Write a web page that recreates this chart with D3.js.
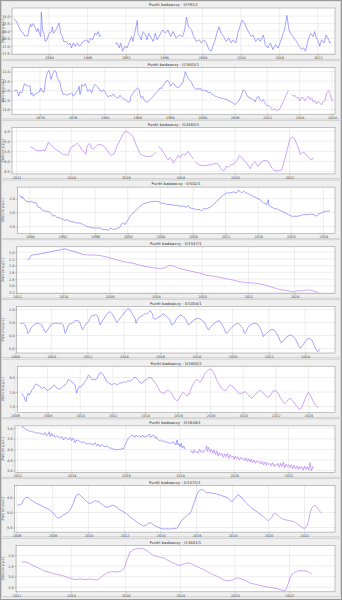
<!DOCTYPE html>
<html><head><meta charset="utf-8">
<script src="https://cdn.jsdelivr.net/npm/d3@7"></script>
<style>body{margin:0;background:#fff}svg{display:block}</style>
</head><body><svg id="c" width="342" height="600"></svg>
<script>
const titles = ["Punkt badawczy - II/791/1","Punkt badawczy - II/1602/1","Punkt badawczy - II/2265/1","Punkt badawczy - II/502/1","Punkt badawczy - II/1547/1","Punkt badawczy - II/1058/1","Punkt badawczy - II/1650/1","Punkt badawczy - II/1648/1","Punkt badawczy - II/1575/1","Punkt badawczy - II/1601/1"];
const yLabel = "ZWG [m p.p.t.]";

// series: [year, level]; null = gap in measurements
const s1 = [[1974.5,15.17],[1974.8,15.28],[1975.2,15.61],[1975.4,15.83],[1975.7,16.04],[1976.0,16.15],[1976.2,16.33],[1976.7,16.33],[1976.9,15.83],[1977.1,15.54],[1977.3,15.72],[1977.5,15.50],[1977.7,15.61],[1977.9,15.83],[1978.1,16.04],[1978.3,15.83],[1978.5,16.15],[1978.7,16.37],[1978.8,14.74],[1979.0,15.93],[1979.2,16.15],[1979.4,16.70],[1979.7,16.59],[1980.0,16.15],[1980.4,16.04],[1980.5,15.72],[1980.7,16.15],[1981.1,15.93],[1981.6,15.46],[1981.8,16.15],[1982.1,16.37],[1982.3,16.70],[1982.7,16.70],[1983.0,16.91],[1983.3,16.80],[1983.5,17.13],[1983.8,16.80],[1984.1,17.02],[1984.4,16.80],[1984.8,17.02],[1985.3,16.70],[1985.9,16.59],[1986.2,16.80],[1986.5,16.48],[1986.8,16.59],[1987.2,16.15],[1987.4,16.26],[1987.7,16.04],[1987.9,16.37],[1988.2,16.26],null,[1990.4,16.91],[1990.6,16.76],[1991.0,17.13],[1991.2,16.80],[1991.5,17.35],[1991.8,17.02],[1992.2,17.13],[1992.5,16.80],[1992.9,16.37],[1993.1,16.70],[1993.4,16.15],[1993.8,15.28],[1993.9,16.15],[1994.2,16.37],[1994.4,16.59],[1994.7,16.04],[1995.1,16.26],[1995.3,16.59],[1995.6,16.15],[1996.0,16.48],[1996.3,16.70],[1996.6,16.15],[1996.9,16.59],[1997.2,16.37],[1997.6,16.04],[1997.8,15.93],[1998.2,16.15],[1998.6,15.93],[1999.0,16.37],[1999.4,16.04],[1999.9,16.48],[2000.4,16.26],[2000.9,16.37],[2001.2,15.93],[2001.5,15.07],[2001.8,15.72],[2002.3,15.93],[2002.5,16.26],[2003.0,16.70],[2003.5,16.59],[2003.8,16.80],[2004.2,16.59],[2004.6,16.80],[2005.0,17.24],[2005.4,17.35],[2005.6,17.02],[2005.9,16.70],[2006.3,16.04],[2006.6,15.72],[2006.9,16.15],[2007.3,16.37],[2007.7,16.70],[2008.1,16.48],[2008.5,16.80],[2008.8,16.59],[2009.2,16.80],[2009.5,16.15],[2009.9,15.61],[2010.2,15.28],[2010.6,15.50],[2010.9,15.83],[2011.3,16.15],[2011.6,16.37],[2011.9,16.26],[2012.3,16.70],[2012.7,16.48],[2013.0,16.70],[2013.5,16.26],[2013.8,16.91],[2014.2,17.13],[2014.6,16.80],[2015.0,17.24],[2015.4,16.91],[2015.8,17.13],[2016.2,16.70],[2016.6,16.15],[2016.8,15.93],[2017.2,14.96],[2017.5,15.93],[2017.9,16.26],[2018.3,16.48],[2018.7,16.70],[2019.1,17.02],[2019.5,17.24],[2019.8,17.13],[2020.1,17.35],[2020.5,16.59],[2020.9,16.15],[2021.3,16.37],[2021.5,16.04],[2021.8,16.48],[2022.1,16.70],[2022.3,17.02],[2022.6,16.59],[2023.0,16.80],[2023.3,16.26],[2023.6,16.48],[2023.9,16.80],[2024.1,16.76]];

const s2 = [[1965.19,12.07],[1965.56,11.95],[1965.81,12.04],[1966.05,12.30],[1966.30,12.07],[1966.61,12.12],[1966.91,11.86],[1967.10,11.64],[1967.41,11.71],[1967.84,11.77],[1968.15,11.75],[1968.33,12.21],[1968.52,12.12],[1968.76,12.30],[1969.07,12.18],[1969.50,12.12],[1969.87,12.07],[1970.12,11.86],[1970.43,12.04],[1970.74,12.09],[1970.92,11.68],[1971.11,11.32],[1971.35,11.05],[1971.66,10.93],[1971.85,11.14],[1972.03,11.41],[1972.28,11.18],[1972.65,10.93],[1972.96,11.00],[1973.20,11.32],[1973.45,11.46],[1973.70,11.59],[1973.88,11.86],[1974.07,12.04],[1974.31,12.21],[1974.62,12.18],[1974.93,12.25],[1975.24,12.18],[1975.54,12.21],[1975.85,12.12],[1976.16,12.30],[1976.47,12.18],[1976.78,12.07],[1977.09,11.95],[1977.21,11.77],[1977.39,12.21],[1977.58,12.04],[1977.70,11.68],[1978.01,11.77],[1978.32,11.64],[1978.63,11.86],[1978.81,12.04],[1979.06,12.00],[1979.24,11.95],[1979.55,12.12],[1979.86,11.82],[1980.17,11.68],[1980.48,11.77],[1980.85,11.86],[1981.09,12.00],[1981.40,12.07],[1981.71,11.95],[1982.02,12.07],[1982.32,12.21],[1982.63,12.36],[1982.94,12.25],[1983.25,12.30],[1983.56,12.18],[1983.87,12.30],[1984.17,12.39],[1984.48,12.39],[1984.79,12.25],[1985.10,12.36],[1985.41,12.43],[1985.72,12.48],[1986.02,12.54],[1986.33,12.61],[1986.64,12.57],[1986.83,12.30],[1987.13,12.18],[1987.56,12.00],[1988.00,11.86],[1988.37,11.95],[1988.49,12.21],[1988.67,12.39],[1988.98,12.30],[1989.23,12.48],[1989.48,12.57],[1989.72,12.61],[1990.03,12.57],[1990.34,12.48],[1990.65,12.39],[1990.95,12.30],[1991.26,12.18],[1991.57,12.07],[1991.88,12.00],[1992.19,11.86],[1992.50,11.89],[1992.68,11.77],[1992.93,11.68],[1993.30,11.50],[1993.60,11.46],[1993.91,11.59],[1994.16,11.77],[1994.34,11.68],[1994.65,11.59],[1994.96,11.71],[1995.27,11.82],[1995.58,11.86],[1995.89,11.77],[1996.19,11.64],[1996.50,11.50],[1996.69,11.23],[1996.87,11.00],[1997.12,11.18],[1997.43,11.36],[1997.73,11.46],[1998.04,11.59],[1998.35,11.77],[1998.54,11.86],[1998.84,11.95],[1999.09,11.86],[1999.34,11.95],[1999.58,11.86],[1999.89,12.00],[2000.20,11.95],[2000.51,12.04],[2000.82,12.00],[2001.13,12.12],[2001.43,12.07],[2001.74,12.18],[2002.05,12.21],[2002.36,12.30],[2002.67,12.30],[2002.97,12.39],[2003.28,12.36],[2003.59,12.43],[2003.90,12.39],[2004.21,12.48],[2004.52,12.45],[2004.82,12.54],[2005.13,12.57],[2005.44,12.61],[2005.75,12.66],[2006.06,12.75],[2006.36,12.66],[2006.67,12.57],[2006.98,12.43],[2007.29,12.21],[2007.60,11.95],[2007.91,12.04],[2008.21,12.21],[2008.52,12.36],[2008.83,12.39],[2009.14,12.43],[2009.45,12.48],[2009.75,12.61],[2010.06,12.39],[2010.37,12.30],[2010.68,12.48],[2010.99,12.57],[2011.30,12.48],[2011.60,12.66],[2011.91,12.79],[2012.22,12.79],[2012.53,12.84],[2012.84,12.96],[2013.14,13.02],[2013.45,12.96],[2013.76,13.07],[2014.07,13.02],[2014.38,12.96],[2014.69,12.75],[2014.99,12.57],[2015.30,12.39],[2015.61,12.18],[2015.92,12.00],null,[2016.54,12.21],[2016.84,12.30],[2017.15,12.25],[2017.46,12.39],[2017.77,12.36],[2018.08,12.54],[2018.38,12.36],[2018.69,12.39],[2019.00,12.54],[2019.31,12.39],[2019.62,12.30],[2019.93,12.48],[2020.23,12.39],[2020.54,12.61],[2020.85,12.54],[2021.16,12.71],[2021.47,12.57],[2021.77,12.66],[2022.08,12.75],[2022.39,12.57],[2022.70,12.54],[2023.01,12.12],[2023.32,12.00],[2023.63,12.18],[2023.93,12.48],[2024.24,12.54]];

const s3 = [[2012.49,5.27],[2012.61,5.35],[2012.73,5.47],[2012.86,5.47],[2012.98,5.43],[2013.04,5.48],[2013.10,5.27],[2013.16,5.06],[2013.22,5.11],[2013.35,5.32],[2013.47,5.43],[2013.59,5.55],[2013.71,5.68],[2013.77,5.65],[2013.83,5.71],[2013.90,5.68],[2013.96,5.39],[2014.02,5.27],[2014.14,5.19],[2014.20,5.11],[2014.26,5.16],[2014.32,5.27],[2014.38,5.43],[2014.51,5.60],[2014.54,5.65],[2014.59,5.22],[2014.67,5.11],[2014.71,5.19],[2014.75,5.35],[2014.81,5.39],[2014.87,5.32],[2014.93,5.22],[2014.99,5.16],[2015.06,5.16],[2015.18,5.22],[2015.30,5.43],[2015.42,5.65],[2015.48,5.71],[2015.55,5.65],[2015.61,5.52],[2015.67,5.27],[2015.79,4.94],[2015.91,4.61],[2016.01,4.50],[2016.10,4.57],[2016.18,4.66],[2016.25,4.73],[2016.30,4.89],[2016.38,5.19],[2016.46,5.43],[2016.52,5.60],[2016.62,5.71],[2016.77,5.76],[2016.89,5.76],[2016.99,5.71],[2017.07,5.60],[2017.11,5.55],null,[2017.20,5.27],[2017.26,5.32],[2017.32,5.43],[2017.38,5.55],[2017.44,5.68],[2017.50,5.84],[2017.56,5.93],[2017.62,5.81],[2017.69,5.93],[2017.75,6.09],[2017.81,5.93],[2017.87,5.84],[2017.93,5.71],[2017.99,5.81],[2018.05,5.68],[2018.11,5.65],[2018.17,5.71],[2018.24,5.55],[2018.30,5.52],[2018.36,5.68],[2018.42,5.76],[2018.48,5.88],null,[2018.54,6.01],[2018.60,6.09],[2018.72,6.20],[2018.85,6.22],[2018.97,6.20],[2019.09,6.17],[2019.21,6.14],[2019.31,6.09],[2019.40,6.17],[2019.46,6.30],[2019.52,6.42],[2019.58,6.47],[2019.64,6.42],[2019.68,6.25],[2019.76,6.30],[2019.83,6.20],[2019.95,6.14],[2020.07,5.97],[2020.17,5.71],[2020.25,5.81],[2020.31,5.93],[2020.44,6.09],[2020.50,6.25],[2020.56,6.37],[2020.62,6.20],[2020.68,6.09],[2020.74,6.01],[2020.80,6.17],[2020.86,6.25],[2020.92,6.09],[2021.05,5.97],[2021.17,5.97],[2021.23,6.01],[2021.29,6.17],[2021.35,6.34],[2021.41,6.42],[2021.47,6.47],[2021.60,6.47],[2021.72,6.42],[2021.78,6.14],[2021.84,5.84],[2021.90,5.52],[2021.96,5.19],[2022.02,4.89],[2022.09,4.78],[2022.15,4.83],[2022.21,4.94],[2022.27,5.16],[2022.33,5.32],[2022.39,5.65],[2022.45,5.60],[2022.51,5.55],[2022.57,5.60],[2022.64,5.71],[2022.70,5.81],[2022.76,5.88],[2022.82,5.93],[2022.88,5.81]];

const s4 = [[1986.65,1.88],[1986.86,1.92],[1986.98,1.98],[1987.10,1.92],[1987.18,2.00],[1987.59,2.10],[1988.00,2.12],[1988.21,2.10],[1988.41,2.15],[1988.74,2.15],[1989.02,2.31],[1989.31,2.33],[1989.43,2.39],[1989.64,2.43],[1989.84,2.45],[1990.05,2.45],[1990.37,2.48],[1990.66,2.55],[1990.86,2.63],[1991.07,2.59],[1991.27,2.67],[1991.68,2.69],[1992.09,2.75],[1992.30,2.79],[1992.50,2.75],[1992.91,2.81],[1993.32,2.83],[1993.73,2.87],[1994.14,2.87],[1994.55,2.93],[1994.95,2.99],[1995.36,3.02],[1995.77,3.05],[1996.18,3.05],[1996.59,3.05],[1997.00,3.11],[1997.41,3.11],[1997.61,3.14],[1997.82,3.05],[1998.23,3.11],[1998.64,3.07],[1998.84,3.05],[1999.04,3.02],[1999.25,2.90],[1999.45,2.87],[1999.66,2.93],[1999.86,2.81],[2000.07,2.75],[2000.27,2.63],[2000.48,2.57],[2000.68,2.51],[2000.89,2.45],[2001.09,2.39],[2001.50,2.27],[2001.91,2.19],[2002.32,2.15],[2002.73,2.12],[2003.13,2.10],[2003.54,2.10],[2003.95,2.12],[2004.16,2.19],[2004.36,2.15],[2004.77,2.21],[2005.18,2.21],[2005.59,2.24],[2006.00,2.24],[2006.41,2.27],[2006.82,2.27],[2007.22,2.31],[2007.43,2.24],[2007.63,2.33],[2008.04,2.36],[2008.45,2.39],[2008.86,2.39],[2009.06,2.45],[2009.27,2.36],[2009.68,2.36],[2010.09,2.31],[2010.50,2.21],[2010.91,2.10],[2011.31,1.98],[2011.72,1.88],[2012.13,1.80],[2012.54,1.80],[2012.95,1.76],[2013.36,1.80],[2013.56,1.71],[2013.77,1.74],[2013.97,1.80],[2014.18,1.74],[2014.59,1.80],[2015.00,1.86],[2015.40,1.92],[2015.81,1.98],[2016.22,2.04],[2016.63,2.15],[2017.04,2.21],[2017.24,2.04],[2017.29,2.24],[2017.65,2.31],[2018.06,2.36],[2018.47,2.39],[2018.88,2.45],[2019.29,2.51],[2019.70,2.57],[2020.11,2.63],[2020.52,2.63],[2020.93,2.63],[2021.33,2.59],[2021.74,2.57],[2022.15,2.57],[2022.56,2.55],[2022.97,2.59],[2023.18,2.63],[2023.38,2.55],[2023.79,2.51],[2024.20,2.45],[2024.61,2.45],[2024.81,2.43]];

const s5 = [[2012.44,2.22],[2012.53,2.20],[2012.59,2.10],[2012.70,2.08],[2012.99,2.05],[2013.28,2.01],[2013.57,1.97],[2013.86,1.93],[2014.07,1.90],[2014.29,1.95],[2014.58,2.00],[2014.86,2.07],[2015.15,2.09],[2015.30,2.08],[2015.59,2.10],[2015.87,2.14],[2016.16,2.20],[2016.45,2.25],[2016.74,2.30],[2017.03,2.33],[2017.32,2.39],[2017.60,2.43],[2017.89,2.46],[2018.18,2.49],[2018.32,2.47],[2018.47,2.44],[2018.54,2.41],[2018.61,2.39],[2018.76,2.41],[2019.04,2.49],[2019.33,2.53],[2019.62,2.58],[2019.91,2.62],[2020.20,2.69],[2020.49,2.71],[2020.77,2.75],[2021.06,2.79],[2021.35,2.83],[2021.64,2.88],[2021.93,2.90],[2022.22,2.92],[2022.50,2.94],[2022.79,2.99],[2023.08,3.05],[2023.37,3.11],[2023.66,3.14],[2023.95,3.18],[2024.09,3.15],[2024.23,3.15],[2024.38,3.14],[2024.52,3.12],[2024.67,3.12],[2024.81,3.15],[2024.95,3.18],[2025.03,3.20]];

const s6 = [[2008.28,3.06],[2008.46,3.06],[2008.55,3.19],[2008.64,3.45],[2008.70,3.84],[2008.74,3.78],[2008.79,3.71],[2008.86,3.45],[2008.97,3.27],[2009.10,3.11],[2009.29,3.06],[2009.38,3.11],[2009.47,3.19],[2009.56,3.45],[2009.65,3.71],[2009.71,3.78],[2009.78,3.58],[2009.89,3.37],[2010.02,3.11],[2010.21,3.06],[2010.39,3.06],[2010.48,3.11],[2010.57,3.06],[2010.67,3.19],[2010.72,3.58],[2010.76,3.84],[2010.81,3.71],[2010.94,3.19],[2011.03,3.11],[2011.13,3.06],[2011.22,2.96],[2011.31,2.85],[2011.44,2.85],[2011.55,2.93],[2011.62,3.19],[2011.68,3.45],[2011.73,3.58],[2011.81,3.32],[2011.92,3.11],[2012.05,2.93],[2012.14,2.67],[2012.23,2.49],[2012.28,2.41],[2012.36,2.49],[2012.43,2.39],[2012.50,2.41],[2012.60,2.67],[2012.65,3.06],[2012.69,3.19],[2012.78,2.93],[2012.91,2.67],[2013.02,2.41],[2013.15,2.23],[2013.24,2.16],[2013.33,2.29],[2013.42,2.49],[2013.52,2.75],[2013.61,3.01],[2013.70,2.85],[2013.83,2.59],[2013.98,2.34],[2014.12,2.08],[2014.23,1.90],[2014.31,1.97],[2014.44,2.23],[2014.53,2.49],[2014.62,2.67],[2014.67,3.06],[2014.75,2.80],[2014.86,2.59],[2014.99,2.49],[2015.08,2.41],[2015.19,2.29],[2015.26,2.34],[2015.36,2.23],[2015.45,2.08],[2015.50,2.16],[2015.58,2.34],[2015.63,2.67],[2015.72,2.75],[2015.82,2.67],[2015.91,2.59],[2016.00,2.54],[2016.09,2.41],[2016.18,2.34],[2016.28,2.41],[2016.37,2.54],[2016.46,2.67],[2016.55,2.85],[2016.64,3.19],[2016.73,3.11],[2016.83,2.93],[2016.92,2.67],[2017.10,2.41],[2017.25,2.49],[2017.38,2.67],[2017.47,2.93],[2017.56,3.19],[2017.65,3.11],[2017.75,2.93],[2017.93,2.75],[2018.11,2.67],[2018.30,2.80],[2018.48,3.06],[2018.61,3.45],[2018.68,3.58],[2018.76,3.37],[2018.94,3.11],[2019.13,2.93],[2019.27,2.85],[2019.40,3.11],[2019.53,3.45],[2019.64,3.84],[2019.73,3.78],[2019.86,3.52],[2020.04,3.27],[2020.19,3.11],[2020.32,3.06],[2020.41,3.19],[2020.56,3.45],[2020.65,3.84],[2020.74,3.71],[2020.87,3.32],[2021.06,3.11],[2021.24,3.06],[2021.37,3.11],[2021.48,3.32],[2021.61,3.71],[2021.70,4.09],[2021.76,3.96],[2021.88,3.84],[2022.03,3.63],[2022.16,3.52],[2022.29,3.58],[2022.40,3.78],[2022.53,4.09],[2022.66,4.56],[2022.77,4.48],[2022.90,4.22],[2023.08,4.04],[2023.21,3.96],[2023.36,4.09],[2023.50,4.35],[2023.63,4.74],[2023.72,4.99],[2023.82,4.87],[2023.94,4.61],[2024.09,4.30],[2024.23,4.22],[2024.37,4.35],[2024.46,4.61],[2024.57,4.99],[2024.64,5.18],[2024.70,5.26],[2024.77,5.13],[2024.83,5.08]];

const s7 = [[2006.41,7.04],[2006.47,7.10],[2006.55,7.16],[2006.61,7.27],[2006.68,7.33],[2006.72,7.16],[2006.82,7.04],[2006.88,7.10],[2006.96,7.02],[2007.02,6.93],[2007.13,6.87],[2007.23,6.75],[2007.29,6.72],[2007.37,6.75],[2007.49,6.79],[2007.58,6.83],[2007.70,6.88],[2007.78,6.83],[2007.90,6.90],[2007.98,6.95],[2008.11,6.90],[2008.19,6.87],[2008.31,6.81],[2008.39,6.75],[2008.52,6.83],[2008.60,6.87],[2008.72,6.90],[2008.80,6.87],[2008.93,6.81],[2009.07,6.75],[2009.17,6.70],[2009.27,6.56],[2009.37,6.60],[2009.48,6.64],[2009.58,6.70],[2009.68,6.75],[2009.78,7.04],[2009.84,6.93],[2009.93,6.81],[2010.03,6.83],[2010.11,6.79],[2010.19,6.72],[2010.29,6.64],[2010.40,6.56],[2010.50,6.41],[2010.60,6.47],[2010.64,6.52],[2010.75,6.58],[2010.85,6.56],[2010.97,6.58],[2011.05,6.52],[2011.13,6.41],[2011.22,6.33],[2011.32,6.35],[2011.42,6.41],[2011.52,6.52],[2011.62,6.64],[2011.73,6.67],[2011.83,6.72],[2011.93,6.75],[2012.03,6.72],[2012.13,6.70],[2012.24,6.75],[2012.34,6.72],[2012.44,6.67],[2012.54,6.70],[2012.65,6.64],[2012.75,6.67],[2012.85,6.64],[2012.95,6.60],[2013.06,6.64],[2013.16,6.58],[2013.26,6.52],[2013.36,6.49],[2013.46,6.52],[2013.57,6.60],[2013.67,6.67],[2013.77,6.70],[2013.87,6.64],[2013.98,6.60],[2014.08,6.56],[2014.18,6.52],[2014.28,6.49],[2014.38,6.52],[2014.49,6.60],[2014.59,6.67],[2014.69,6.75],[2014.79,6.87],[2014.90,6.98],[2015.00,7.02],[2015.10,7.04],[2015.20,7.01],[2015.31,6.96],[2015.41,6.93],[2015.51,6.98],[2015.61,7.04],[2015.71,7.16],[2015.82,7.25],[2015.92,7.30],[2016.02,7.27],[2016.12,7.16],[2016.23,7.04],[2016.33,7.01],[2016.43,7.06],[2016.53,7.13],[2016.63,7.10],[2016.74,6.98],[2016.84,6.83],[2016.94,6.72],[2017.04,6.64],[2017.15,6.56],[2017.25,6.60],[2017.35,6.67],[2017.45,6.60],[2017.55,6.47],[2017.66,6.35],[2017.76,6.29],[2017.86,6.24],[2017.96,6.21],[2018.07,6.24],[2018.17,6.33],[2018.27,6.44],[2018.37,6.58],[2018.47,6.70],[2018.58,6.79],[2018.68,6.87],[2018.78,6.93],[2018.88,6.95],[2018.99,6.90],[2019.09,6.81],[2019.19,6.75],[2019.29,6.79],[2019.40,6.83],[2019.50,6.90],[2019.60,6.95],[2019.70,7.04],[2019.80,7.06],[2019.91,7.04],[2020.01,7.02],[2020.11,6.98],[2020.21,7.04],[2020.32,7.10],[2020.42,7.18],[2020.52,7.21],[2020.62,7.16],[2020.72,7.10],[2020.83,7.04],[2020.93,6.98],[2021.03,6.93],[2021.13,6.98],[2021.24,7.04],[2021.34,7.10],[2021.44,7.16],[2021.54,7.18],[2021.64,7.13],[2021.75,7.04],[2021.85,6.95],[2021.95,6.95],[2022.05,6.98],[2022.16,7.06],[2022.26,7.18],[2022.36,7.27],[2022.46,7.36],[2022.56,7.39],[2022.67,7.33],[2022.77,7.25],[2022.87,7.21],[2022.97,7.27],[2023.08,7.33],[2023.18,7.41],[2023.28,7.48],[2023.38,7.56],[2023.49,7.59],[2023.59,7.52],[2023.69,7.39],[2023.79,7.25],[2023.89,7.10],[2024.00,7.02],[2024.10,7.10],[2024.20,7.21],[2024.30,7.33],[2024.41,7.44],[2024.51,7.50],[2024.61,7.52]];

const s8 = [[2012.16,2.92],[2012.22,2.95],[2012.28,3.03],[2012.34,3.08],[2012.41,3.11],[2012.47,3.16],[2012.53,3.13],[2012.59,3.20],[2012.65,3.17],[2012.71,3.24],[2012.77,3.20],[2012.84,3.27],[2012.90,3.24],[2012.96,3.32],[2013.02,3.20],[2013.08,3.36],[2013.14,3.27],[2013.18,3.16],[2013.21,3.39],[2013.27,3.24],[2013.30,3.36],[2013.35,3.32],[2013.39,3.43],[2013.45,3.36],[2013.51,3.39],[2013.57,3.47],[2013.64,3.39],[2013.70,3.55],[2013.76,3.43],[2013.82,3.47],[2013.88,3.55],[2013.94,3.43],[2014.00,3.58],[2014.04,3.47],[2014.09,3.52],[2014.13,3.68],[2014.19,3.55],[2014.25,3.58],[2014.31,3.63],[2014.37,3.68],[2014.44,3.63],[2014.50,3.71],[2014.56,3.74],[2014.62,3.71],[2014.68,3.74],[2014.74,3.74],[2014.80,3.79],[2014.87,3.68],[2014.93,3.83],[2014.99,3.74],[2015.05,3.87],[2015.11,3.77],[2015.17,3.83],[2015.23,3.87],[2015.30,3.83],[2015.36,3.90],[2015.42,3.94],[2015.48,3.94],[2015.54,3.99],[2015.60,3.99],[2015.67,4.02],[2015.73,3.99],[2015.79,4.02],[2015.85,3.94],[2015.91,3.99],[2015.94,3.87],[2015.97,3.79],[2016.03,3.63],[2016.10,3.47],[2016.16,3.39],[2016.22,3.32],[2016.28,3.36],[2016.34,3.43],[2016.38,3.32],[2016.43,3.39],[2016.50,3.36],[2016.55,3.43],[2016.62,3.32],[2016.67,3.43],[2016.75,3.36],[2016.80,3.39],[2016.87,3.27],[2016.92,3.43],[2016.97,3.36],[2017.02,3.32],[2017.08,3.47],[2017.12,3.39],[2017.17,3.52],[2017.24,3.58],[2017.29,3.55],[2017.36,3.65],[2017.41,3.58],[2017.49,3.68],[2017.53,3.65],[2017.61,3.71],[2017.66,3.68],[2017.71,3.71],[2017.76,3.63],[2017.82,3.74],[2017.85,3.79],[2017.89,3.55],[2017.93,3.79],[2017.98,3.74],[2018.00,3.87],[2018.04,3.71],[2018.08,3.94],[2018.13,3.83],[2018.19,3.99],null,[2018.37,4.13],[2018.42,4.06],[2018.47,4.18],[2018.52,4.02],[2018.57,4.15],[2018.62,4.09],[2018.67,4.18],[2018.72,3.99],[2018.76,4.12],[2018.81,4.06],[2018.86,4.15],[2018.91,4.02],[2018.96,3.96],[2018.99,3.83],[2019.01,4.10],[2019.06,3.90],[2019.11,4.15],[2019.16,3.99],[2019.21,4.18],[2019.26,4.02],[2019.31,4.24],[2019.36,4.06],[2019.40,4.31],[2019.45,4.15],[2019.50,4.28],[2019.55,4.18],[2019.60,4.37],[2019.65,4.21],[2019.70,4.34],[2019.75,4.18],[2019.80,4.43],[2019.85,4.24],[2019.90,4.37],[2019.95,4.31],[2020.00,4.46],[2020.04,4.31],[2020.09,4.43],[2020.14,4.34],[2020.19,4.50],[2020.24,4.37],[2020.29,4.46],[2020.34,4.40],[2020.39,4.53],[2020.44,4.40],[2020.49,4.56],[2020.54,4.43],[2020.59,4.59],[2020.63,4.46],[2020.68,4.62],[2020.73,4.50],[2020.78,4.65],[2020.83,4.53],[2020.88,4.62],[2020.93,4.56],[2020.98,4.69],[2021.03,4.56],[2021.08,4.72],[2021.13,4.59],[2021.18,4.75],[2021.22,4.62],[2021.27,4.72],[2021.32,4.65],[2021.37,4.78],[2021.42,4.62],[2021.47,4.81],[2021.52,4.69],[2021.57,4.78],[2021.62,4.65],[2021.67,4.84],[2021.72,4.65],[2021.77,4.81],[2021.82,4.59],[2021.86,4.87],[2021.91,4.69],[2021.96,4.81],[2022.01,4.72],[2022.06,4.87],[2022.11,4.72],[2022.16,4.91],[2022.21,4.75],[2022.26,4.91],[2022.31,4.78],[2022.36,4.94],[2022.41,4.78],[2022.45,4.91],[2022.50,4.81],[2022.55,4.97],[2022.60,4.78],[2022.65,4.94],[2022.70,4.81],[2022.75,4.97],[2022.80,4.62],[2022.85,5.00],[2022.90,4.81],[2022.92,4.89]];

const s9 = [[2006.04,4.75],[2006.15,4.75],[2006.28,4.72],[2006.37,4.59],[2006.52,4.50],[2006.65,4.50],[2006.74,4.57],[2006.93,4.64],[2007.11,4.70],[2007.30,4.75],[2007.48,4.81],[2007.67,4.86],[2007.85,4.92],[2008.04,5.03],[2008.22,5.16],[2008.32,5.19],[2008.41,5.16],[2008.60,5.08],[2008.78,5.03],[2008.97,4.92],[2009.06,4.81],[2009.15,4.70],[2009.24,4.53],[2009.34,4.42],[2009.43,4.39],[2009.52,4.42],[2009.61,4.48],[2009.71,4.53],[2009.89,4.64],[2010.04,4.70],[2010.17,4.68],[2010.36,4.61],[2010.54,4.64],[2010.73,4.72],[2010.91,4.81],[2011.01,4.83],[2011.19,4.79],[2011.38,4.76],[2011.56,4.83],[2011.75,4.92],[2011.93,4.97],[2012.12,5.05],[2012.30,5.14],[2012.49,5.23],[2012.67,5.31],[2012.86,5.38],[2013.04,5.45],[2013.23,5.41],[2013.32,5.36],[2013.41,5.34],[2013.51,5.36],[2013.60,5.41],[2013.79,5.47],[2013.97,5.52],[2014.16,5.55],[2014.34,5.54],[2014.53,5.55],[2014.71,5.53],[2014.90,5.52],[2014.99,5.47],[2015.08,5.36],[2015.18,5.25],[2015.27,5.22],[2015.36,5.16],[2015.45,5.11],[2015.55,5.05],[2015.64,5.03],[2015.73,4.92],[2015.82,4.75],[2015.92,4.59],[2016.01,4.42],[2016.10,4.31],[2016.19,4.26],[2016.29,4.24],[2016.38,4.26],[2016.47,4.31],[2016.57,4.35],[2016.66,4.34],[2016.75,4.35],[2016.94,4.37],[2017.12,4.39],[2017.31,4.42],[2017.49,4.46],[2017.68,4.50],[2017.86,4.59],[2017.96,4.64],[2018.05,4.59],[2018.14,4.53],[2018.23,4.46],[2018.33,4.42],[2018.42,4.46],[2018.51,4.50],[2018.61,4.59],[2018.79,4.70],[2018.98,4.81],[2019.16,4.90],[2019.35,4.97],[2019.53,5.05],[2019.72,5.14],[2019.90,5.23],[2019.99,5.27],[2020.09,5.23],[2020.18,5.16],[2020.27,5.05],[2020.37,5.03],[2020.46,5.05],[2020.55,5.11],[2020.64,5.16],[2020.83,5.23],[2021.01,5.25],[2021.20,5.27],[2021.38,5.30],[2021.57,5.36],[2021.76,5.45],[2021.94,5.52],[2022.03,5.52],[2022.13,5.47],[2022.22,5.30],[2022.31,5.03],[2022.40,4.86],[2022.50,4.79],[2022.59,4.76],[2022.68,4.81],[2022.77,4.90],[2022.87,4.97],[2022.96,5.03]];

const s10 = [[2012.18,2.31],[2012.31,2.31],[2012.43,2.36],[2012.55,2.44],[2012.67,2.52],[2012.80,2.59],[2012.92,2.67],[2013.04,2.75],[2013.16,2.78],[2013.28,2.83],[2013.41,2.88],[2013.53,2.91],[2013.65,2.94],[2013.77,2.98],[2013.90,3.06],[2014.02,3.09],[2014.14,3.14],[2014.26,3.12],[2014.38,3.11],[2014.51,3.14],[2014.63,3.11],[2014.75,3.12],[2014.87,3.14],[2014.93,3.16],[2015.06,3.06],[2015.18,2.94],[2015.30,2.83],[2015.42,2.78],[2015.55,2.77],[2015.67,2.78],[2015.79,2.75],[2015.85,2.72],[2015.91,2.67],[2015.97,2.52],[2016.03,2.28],[2016.10,2.05],[2016.16,1.84],[2016.28,1.73],[2016.40,1.69],[2016.52,1.66],[2016.65,1.69],[2016.77,1.78],[2016.89,1.89],[2017.01,2.00],[2017.13,2.05],[2017.26,2.09],[2017.38,2.12],[2017.50,2.20],[2017.62,2.28],[2017.75,2.36],[2017.87,2.44],[2017.99,2.47],[2018.11,2.41],[2018.23,2.36],[2018.36,2.37],[2018.48,2.44],[2018.60,2.52],[2018.72,2.59],[2018.85,2.67],[2018.97,2.75],[2019.09,2.83],[2019.21,2.91],[2019.34,2.98],[2019.46,3.06],[2019.58,3.14],[2019.70,3.19],[2019.82,3.19],[2019.95,3.14],[2020.07,3.06],[2020.19,3.08],[2020.31,3.14],[2020.44,3.22],[2020.56,3.30],[2020.68,3.34],[2020.80,3.37],[2020.92,3.41],[2021.05,3.45],[2021.17,3.48],[2021.29,3.50],[2021.41,3.53],[2021.54,3.56],[2021.66,3.61],[2021.78,3.64],[2021.84,3.66],[2021.90,3.53],[2021.96,3.30],[2022.02,3.06],[2022.09,2.91],[2022.15,2.83],[2022.27,2.75],[2022.39,2.72],[2022.51,2.72],[2022.64,2.75],[2022.76,2.83],[2022.82,2.88]];

// axis extents and ticks
const xDomains = [[1974.22,2024.70],[1964.82,2024.55],[2011.83,2023.67],[1986.45,2025.42],[2011.98,2025.75],[2008.09,2025.65],[2006.14,2025.63],[2011.91,2023.72],[2005.89,2023.70],[2011.98,2023.67]];
const xTicks = [[1980,1986,1992,1998,2004,2010,2016,2022],[1970,1976,1982,1988,1994,2000,2006,2012,2018,2024],[2012,2014,2016,2018,2020,2022],[1988,1992,1996,2000,2004,2008,2012,2016,2020,2024],[2012,2014,2016,2018,2020,2022,2024],[2008,2010,2012,2014,2016,2018,2020,2022,2024],[2006,2008,2010,2012,2014,2016,2018,2020,2022,2024],[2012,2014,2016,2018,2020,2022],[2006,2008,2010,2012,2014,2016,2018,2020,2022],[2012,2014,2016,2018,2020,2022]];
const yDomains = [[14.46,17.57],[10.79,13.25],[4.31,6.63],[1.59,3.25],[1.84,3.22],[1.76,5.36],[6.11,7.71],[2.89,5.08],[4.11,5.65],[1.53,3.71]];
const yTicks = [[15,15.5,16,16.5,17,17.5],[11,11.5,12,12.5,13],[4.5,5,5.5,6,6.5],[2,2.5,3],[2.0,2.2,2.4,2.6,2.8,3.0,3.2],[2,3,4,5],[6.5,7,7.5],[3,3.5,4,4.5,5],[4.5,5,5.5],[2,2.5,3,3.5]];
// year from which measurements are shown in the second (violet) colour
const splitYears = [9999,2011.3,0,9999,2014.6,9999,2014.5,2018.3,2019.7,0];
const seriesList = [s1,s2,s3,s4,s5,s6,s7,s8,s9,s10];

const BLUE = "#6a6afc", VIOLET = "#ad6cf4";
const svg = d3.select("#c");
const W = 342, H = 600, PH = 59.7;
const plotLefts = [12,12,12,17.3,16.7,16.7,17.3,15,14.7,16];
const plotRight = 335;

svg.append("rect").attr("x",0).attr("y",0).attr("width",W).attr("height",H).attr("fill","#e9e9e9");

seriesList.forEach((series, i) => {
  const top = i * PH;
  const g = svg.append("g");
  g.append("rect").attr("x",1.5).attr("y",top+1).attr("width",W-3).attr("height",PH-1.5)
    .attr("fill","#efefef").attr("stroke","#c4c4c4").attr("stroke-width",0.6);
  const pt = top + 8, pb = top + 54.5, pl = plotLefts[i];
  const x = d3.scaleLinear().domain(xDomains[i]).range([pl, plotRight]);
  const y = d3.scaleLinear().domain(yDomains[i]).range([pt, pb]);

  g.append("rect").attr("x",pl).attr("y",pt).attr("width",plotRight-pl).attr("height",pb-pt)
    .attr("fill","#fff");
  g.append("g").selectAll("line").data(xTicks[i]).join("line")
    .attr("x1",d=>x(d)).attr("x2",d=>x(d)).attr("y1",pt).attr("y2",pb)
    .attr("stroke","#dcdcdc").attr("stroke-width",0.5);
  g.append("g").selectAll("line").data(yTicks[i]).join("line")
    .attr("x1",pl).attr("x2",plotRight).attr("y1",d=>y(d)).attr("y2",d=>y(d))
    .attr("stroke","#dcdcdc").attr("stroke-width",0.5);

  const xa = g.append("g").attr("transform",`translate(0,${pb})`)
    .call(d3.axisBottom(x).tickValues(xTicks[i]).tickFormat(d3.format("d")).tickSize(1.5).tickPadding(0.8));
  const ya = g.append("g").attr("transform",`translate(${pl},0)`)
    .call(d3.axisLeft(y).tickValues(yTicks[i]).tickFormat(d3.format(".1f")).tickSize(1.5).tickPadding(0.8));
  [xa,ya].forEach(a => {
    a.select(".domain").remove();
    a.selectAll("line").attr("stroke","#777").attr("stroke-width",0.4);
    a.selectAll("text").attr("font-family","DejaVu Sans, sans-serif").attr("font-size",3.4).attr("fill","#444");
  });

  const pts = series.map(d => d ? {t:d[0], v:d[1]} : null);
  let k = pts.findIndex(d => d && d.t >= splitYears[i]);
  if (k < 0) k = pts.length;
  const blue = pts.slice(0, Math.min(k+1, pts.length));
  const violet = pts.slice(k);
  const line = d3.line().defined(d => d !== null).x(d => x(d.t)).y(d => y(d.v));
  const clipId = "clip"+i;
  g.append("clipPath").attr("id",clipId).append("rect")
    .attr("x",pl).attr("y",pt).attr("width",plotRight-pl).attr("height",pb-pt);
  const lg = g.append("g").attr("clip-path",`url(#${clipId})`);
  if (k > 0) lg.append("path").attr("d",line(blue)).attr("fill","none").attr("stroke",BLUE).attr("stroke-width",0.6).attr("stroke-linejoin","round");
  if (violet.length > 1) lg.append("path").attr("d",line(violet)).attr("fill","none").attr("stroke",VIOLET).attr("stroke-width",0.6).attr("stroke-linejoin","round");

  g.append("rect").attr("x",pl).attr("y",pt).attr("width",plotRight-pl).attr("height",pb-pt)
    .attr("fill","none").attr("stroke","#8a8a8a").attr("stroke-width",0.5);

  g.append("text").attr("x",(pl+plotRight)/2).attr("y",top+6.3).attr("text-anchor","middle")
    .attr("font-family","DejaVu Sans, sans-serif").attr("font-size",3.8).attr("fill","#333").text(titles[i]);
  g.append("text").attr("transform",`translate(${3.6},${(pt+pb)/2}) rotate(-90)`).attr("text-anchor","middle")
    .attr("font-family","DejaVu Sans, sans-serif").attr("font-size",3.2).attr("fill","#444").text(yLabel);
});
svg.append("rect").attr("x",0.5).attr("y",0.5).attr("width",W-1).attr("height",H-1)
  .attr("fill","none").attr("stroke","#9a9a9a").attr("stroke-width",1);
</script></body></html>
